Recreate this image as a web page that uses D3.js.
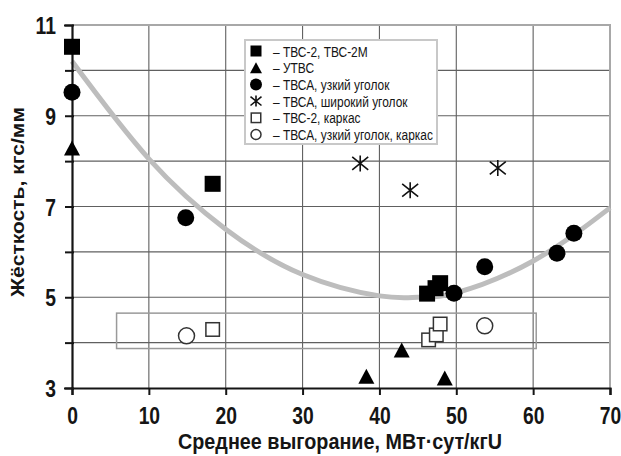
<!DOCTYPE html>
<html><head><meta charset="utf-8">
<script src="https://cdn.jsdelivr.net/npm/d3@7"></script>
<style>html,body{margin:0;padding:0;background:#fff}svg{display:block}</style>
</head><body>
<svg id="c" width="621" height="456"></svg>
<script>
// ---- data ----
const xTicks = [0, 10, 20, 30, 40, 50, 60, 70];
const yTicks = [3, 4, 5, 6, 7, 8, 9, 10, 11];
const yTickLabels = ["3", "", "5", "", "7", "", "9", "", "11"];
const xTitle = "Среднее выгорание, МВт·сут/кгU";
const yTitle = "Жёсткость, кгс/мм";

const tvs2X = [0, 18.3, 46.2, 47.3, 47.9];
const tvs2Y = [10.52, 7.5, 5.08, 5.2, 5.31];
const utvsX = [0, 38.3, 42.9, 48.5];
const utvsY = [8.29, 3.26, 3.84, 3.22];
const narrowX = [0, 14.8, 49.7, 53.7, 63.1, 65.3];
const narrowY = [9.52, 6.75, 5.09, 5.67, 5.97, 6.41];
const wideX = [37.5, 44.0, 55.4];
const wideY = [7.95, 7.36, 7.85];
const tvs2FrameX = [18.3, 46.4, 47.4, 47.9];
const tvs2FrameY = [4.29, 4.06, 4.17, 4.41];
const narrowFrameX = [14.9, 53.7];
const narrowFrameY = [4.15, 4.37];
const trendX = [0, 10, 20, 30, 40, 45, 50, 60, 70];
const trendY = [10.2, 8.05, 6.5, 5.5, 5.03, 5.0, 5.1, 5.8, 6.97];
const frameBoxX = [5.8, 60.4];
const frameBoxY = [3.87, 4.65];
const legendLabels = ["– ТВС-2, ТВС-2М", "– УТВС", "– ТВСА, узкий уголок",
  "– ТВСА, широкий уголок", "– ТВС-2, каркас", "– ТВСА, узкий уголок, каркас"];
const legendKinds = ["fsquare", "ftri", "fcircle", "star", "osquare", "ocircle"];

// ---- layout ----
const svg = d3.select("#c");
const L = 72, R = 610, T = 25, B = 388;
const x = d3.scaleLinear().domain([0, 70]).range([L, R]);
const y = d3.scaleLinear().domain([3, 11]).range([B, T]);
const FONT = "'Liberation Sans', Arial, sans-serif";
const INK = "#151515";

// grid
const g = svg.append("g");
g.selectAll("line.vx").data(xTicks.filter(v => v > 0 && v < 70)).join("line")
  .attr("x1", d => x(d)).attr("x2", d => x(d)).attr("y1", T).attr("y2", B)
  .attr("stroke", "#606060").attr("stroke-width", 1.1);
g.selectAll("line.hy").data(yTicks.filter(v => v > 3 && v < 11)).join("line")
  .attr("x1", L).attr("x2", R).attr("y1", d => y(d)).attr("y2", d => y(d))
  .attr("stroke", "#606060").attr("stroke-width", 1.1);
// top & right frame
g.append("path").attr("d", `M${L},${y(11)}H${x(70)}V${B}`)
  .attr("fill", "none").attr("stroke", "#a8a8a8").attr("stroke-width", 2);

// frame box (rectangle around carcass data)
svg.append("rect")
  .attr("x", x(frameBoxX[0])).attr("y", y(frameBoxY[1]))
  .attr("width", x(frameBoxX[1]) - x(frameBoxX[0]))
  .attr("height", y(frameBoxY[0]) - y(frameBoxY[1]))
  .attr("fill", "none").attr("stroke", "#9a9a9a").attr("stroke-width", 1.5);

// trend curve
const trend = trendX.map((v, i) => [v, trendY[i]]);
svg.append("path").datum(trend)
  .attr("d", d3.line().x(d => x(d[0])).y(d => y(d[1])).curve(d3.curveNatural))
  .attr("fill", "none").attr("stroke", "#bdbdbd").attr("stroke-width", 5);

// axes
const xAxis = d3.axisBottom(x).tickValues(xTicks).tickSize(7).tickFormat(d3.format("d"));
const yAxis = d3.axisLeft(y).tickValues(yTicks).tickSize(8).tickFormat((d, i) => yTickLabels[i]);
const gx = svg.append("g").attr("transform", `translate(0,${B})`).call(xAxis);
const gy = svg.append("g").attr("transform", `translate(${L},0)`).call(yAxis);
[gx, gy].forEach(a => {
  a.select(".domain").attr("stroke", INK).attr("stroke-width", 2.2);
  a.selectAll(".tick line").attr("stroke", INK).attr("stroke-width", 2);
  a.selectAll(".tick text").attr("fill", INK).attr("font-family", FONT)
    .attr("font-weight", "bold").attr("font-size", 23);
});
gy.selectAll(".tick line").attr("x2", -7).attr("x1", 2);
gx.selectAll(".tick text").attr("y", 0).attr("dy", 0)
  .attr("transform", "translate(0,36) scale(0.84,1)");
gy.selectAll(".tick text").attr("x", 0).attr("dy", 0)
  .attr("transform", "translate(-16,8.5) scale(0.84,1)");

// titles
svg.append("text").attr("x", 340).attr("y", 449).attr("text-anchor", "middle")
  .attr("font-family", FONT).attr("font-weight", "bold").attr("font-size", 21.5)
  .attr("fill", INK).attr("textLength", 324).attr("lengthAdjust", "spacingAndGlyphs")
  .text(xTitle);
svg.append("text").attr("transform", "translate(24,202) rotate(-90)")
  .attr("text-anchor", "middle")
  .attr("font-family", FONT).attr("font-weight", "bold").attr("font-size", 19)
  .attr("fill", INK).attr("textLength", 190).attr("lengthAdjust", "spacingAndGlyphs")
  .text(yTitle);

// markers
function marker(sel, kind, s) {
  const h = s / 2;
  if (kind === "fsquare") sel.append("rect").attr("x", -h).attr("y", -h).attr("width", s).attr("height", s).attr("fill", "#000");
  else if (kind === "osquare") sel.append("rect").attr("x", -h + 0.75).attr("y", -h + 0.75).attr("width", s - 1.5).attr("height", s - 1.5).attr("fill", "#fff").attr("stroke", "#333").attr("stroke-width", 1.5);
  else if (kind === "fcircle") sel.append("circle").attr("r", h + 0.5).attr("fill", "#000");
  else if (kind === "ocircle") sel.append("circle").attr("r", h - 0.5).attr("fill", "#fff").attr("stroke", "#333").attr("stroke-width", 1.5);
  else if (kind === "ftri") sel.append("path").attr("d", `M0,${-h}L${h + 0.5},${h}L${-h - 0.5},${h}Z`).attr("fill", "#000");
  else if (kind === "star") sel.append("path")
    .attr("d", `M0,${-h}V${h}M${-h},${-h * 0.8}L${h},${h * 0.8}M${-h},${h * 0.8}L${h},${-h * 0.8}`)
    .attr("stroke", "#111").attr("stroke-width", 1.6).attr("fill", "none");
}
function series(xs, ys, kind, s) {
  xs.forEach((v, i) => {
    const m = svg.append("g").attr("transform", `translate(${x(v)},${y(ys[i])})`);
    marker(m, kind, s);
  });
}
series(tvs2FrameX, tvs2FrameY, "osquare", 15);
series(narrowFrameX, narrowFrameY, "ocircle", 17);
series(wideX, wideY, "star", 16);
series(utvsX, utvsY, "ftri", 15);
series(narrowX, narrowY, "fcircle", 16);
series(tvs2X, tvs2Y, "fsquare", 16);

// legend
const lg = svg.append("g");
lg.append("rect").attr("x", 245).attr("y", 40).attr("width", 192).attr("height", 104)
  .attr("fill", "#fff").attr("stroke", "#c8c8c8").attr("stroke-width", 2);
const rows = lg.selectAll("g.row").data(legendLabels).join("g")
  .attr("transform", (d, i) => `translate(256,${51 + i * 16.7})`);
rows.each(function (d, i) { marker(d3.select(this), legendKinds[i], 11); });
const lt = rows.append("text").attr("font-family", FONT).attr("font-size", 15.5)
  .attr("fill", INK).text(d => d);
let maxW = 0;
lt.each(function () { maxW = Math.max(maxW, this.getComputedTextLength()); });
const sx = 160 / maxW;
lt.attr("transform", `translate(17,5.5) scale(${sx},1)`);
</script>
</body></html>
